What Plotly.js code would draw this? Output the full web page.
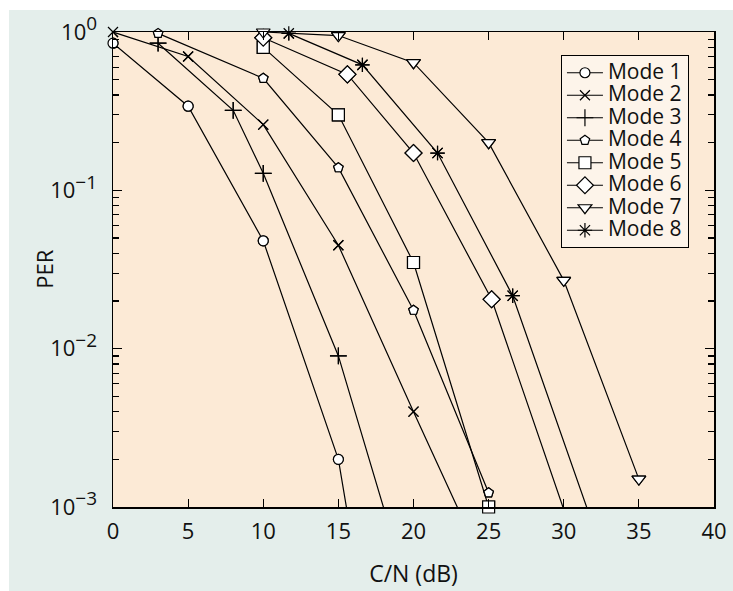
<!DOCTYPE html>
<html>
<head>
<meta charset="utf-8">
<script src="https://cdn.plot.ly/plotly-3.0.1.min.js"></script>
<style>
  html, body { margin: 0; padding: 0; background: #ffffff; }
  #chart { position: absolute; left: 9px; top: 10px; width: 724px; height: 581px; }
</style>
</head>
<body>
<div id="chart"></div>
<script>
// Packet error rate versus carrier-to-noise ratio for the eight transmission modes
const modeNames = ['Mode 1', 'Mode 2', 'Mode 3', 'Mode 4', 'Mode 5', 'Mode 6', 'Mode 7', 'Mode 8'];

const cn1 = [0, 5, 10, 15, 20];
const per1 = [0.85, 0.34, 0.048, 0.0020, 3e-6];

const cn2 = [0, 5, 10, 15, 20, 25];
const per2 = [1.0, 0.70, 0.26, 0.045, 0.0040, 3.7e-4];

const cn3 = [3, 8, 10, 15, 20];
const per3 = [0.85, 0.32, 0.128, 0.0090, 2.3e-4];

const cn4 = [3, 10, 15, 20, 25];
const per4 = [0.98, 0.51, 0.139, 0.0175, 0.00123];

const cn5 = [10, 15, 20, 25];
const per5 = [0.80, 0.30, 0.035, 0.001];

const cn6 = [10, 15.6, 20, 25.2, 35];
const per6 = [0.92, 0.54, 0.172, 0.0205, 4e-5];

const cn7 = [10, 15, 20, 25, 30, 35];
const per7 = [1.0, 0.95, 0.64, 0.20, 0.027, 0.0015];

const cn8 = [11.7, 16.6, 21.6, 26.6, 36.6];
const per8 = [0.98, 0.62, 0.172, 0.0216, 4.2e-5];

const xTickVals = [0, 5, 10, 15, 20, 25, 30, 35, 40];
const yTickVals = [1, 0.1, 0.01, 0.001];
const yTickExp = ['0', '−1', '−2', '−3'];
const yMinorVals = [];
[0.001, 0.01, 0.1].forEach(function (d) {
  for (let k = 2; k <= 9; k++) yMinorVals.push(d * k);
});

const yTickText = yTickExp.map(function (e) {
  return '10<sup><span style="font-size:19px">' + e + '</span></sup>';
});

const series = [
  { x: cn1, y: per1, symbol: 'circle', size: 10, fill: '#ffffff' },
  { x: cn2, y: per2, symbol: 'x-thin-open', size: 10, fill: '#000000' },
  { x: cn3, y: per3, symbol: 'cross-thin-open', size: 12, fill: '#000000' },
  { x: cn4, y: per4, symbol: 'pentagon', size: 10, fill: '#ffffff' },
  { x: cn5, y: per5, symbol: 'square', size: 12, fill: '#ffffff' },
  { x: cn6, y: per6, symbol: 'diamond', size: 13, fill: '#ffffff' },
  { x: cn7, y: per7, symbol: 'triangle-down', size: 12, fill: '#ffffff' },
  { x: cn8, y: per8, symbol: 'asterisk-open', size: 12, fill: '#000000' }
];

const yMin = 1e-3;
const traces = [];
const markerLayer = [];
series.forEach(function (s, i) {
  const marker = {
    symbol: s.symbol,
    size: s.size,
    color: s.fill,
    line: { color: '#000000', width: 1.2 }
  };
  // Curve, clipped to the plot area (also supplies the legend entry)
  traces.push({
    type: 'scatter',
    mode: 'lines+markers',
    name: '<span style="font-size:21px">' + modeNames[i] + '</span>',
    x: s.x,
    y: s.y,
    line: { color: '#000000', width: 1.2 },
    marker: marker,
    cliponaxis: true
  });
  // Unclipped markers for the points inside the axis range
  const xs = [], ys = [];
  s.x.forEach(function (v, j) {
    if (s.y[j] >= yMin * 0.999) { xs.push(v); ys.push(s.y[j]); }
  });
  markerLayer.push({
    type: 'scatter',
    mode: 'markers',
    x: xs,
    y: ys,
    marker: marker,
    cliponaxis: false,
    showlegend: false,
    hoverinfo: 'skip'
  });
});

const layout = {
  width: 724,
  height: 581,
  paper_bgcolor: '#e4eeeb',
  plot_bgcolor: '#fcead6',
  margin: { l: 104, r: 19, t: 22, b: 84 },
  font: { family: '"Open Sans", "Noto Sans", sans-serif', size: 22, color: '#111111' },
  showlegend: true,
  legend: {
    x: 0.745, y: 0.951, xanchor: 'left', yanchor: 'top',
    bgcolor: '#fdf4ea',
    bordercolor: '#000000',
    borderwidth: 1.2,
    font: { size: 15, color: '#111111' },
    itemwidth: 36,
    tracegroupgap: 0
  },
  annotations: [{
    text: 'PER',
    xref: 'paper', yref: 'paper',
    x: -0.116, y: 0.5,
    xanchor: 'center', yanchor: 'middle',
    textangle: -90,
    showarrow: false,
    font: { size: 22, color: '#111111' }
  }],
  xaxis: {
    range: [0, 40],
    tickmode: 'array',
    tickvals: xTickVals,
    ticks: 'inside',
    ticklen: 8,
    tickwidth: 1.2,
    tickcolor: '#000000',
    ticklabelstandoff: 4,
    showline: true,
    linecolor: '#000000',
    linewidth: 1.5,
    mirror: 'ticks',
    showgrid: false,
    zeroline: false,
    automargin: false,
    title: { text: 'C/N (dB)', standoff: 22, font: { size: 23 } }
  },
  yaxis: {
    type: 'log',
    range: [-3, 0],
    tickmode: 'array',
    tickvals: yTickVals,
    ticktext: yTickText,
    ticks: 'inside',
    ticklen: 9,
    tickwidth: 1.2,
    tickcolor: '#000000',
    ticklabelstandoff: 10,
    minor: {
      tickmode: 'array',
      tickvals: yMinorVals,
      ticks: 'inside',
      ticklen: 6,
      tickwidth: 1.2,
      tickcolor: '#000000',
      showgrid: false
    },
    showline: true,
    linecolor: '#000000',
    linewidth: 1.5,
    mirror: 'ticks',
    showgrid: false,
    zeroline: false,
    automargin: false
  }
};

Plotly.newPlot('chart', traces.concat(markerLayer), layout, { displayModeBar: false, staticPlot: true });
</script>
</body>
</html>
